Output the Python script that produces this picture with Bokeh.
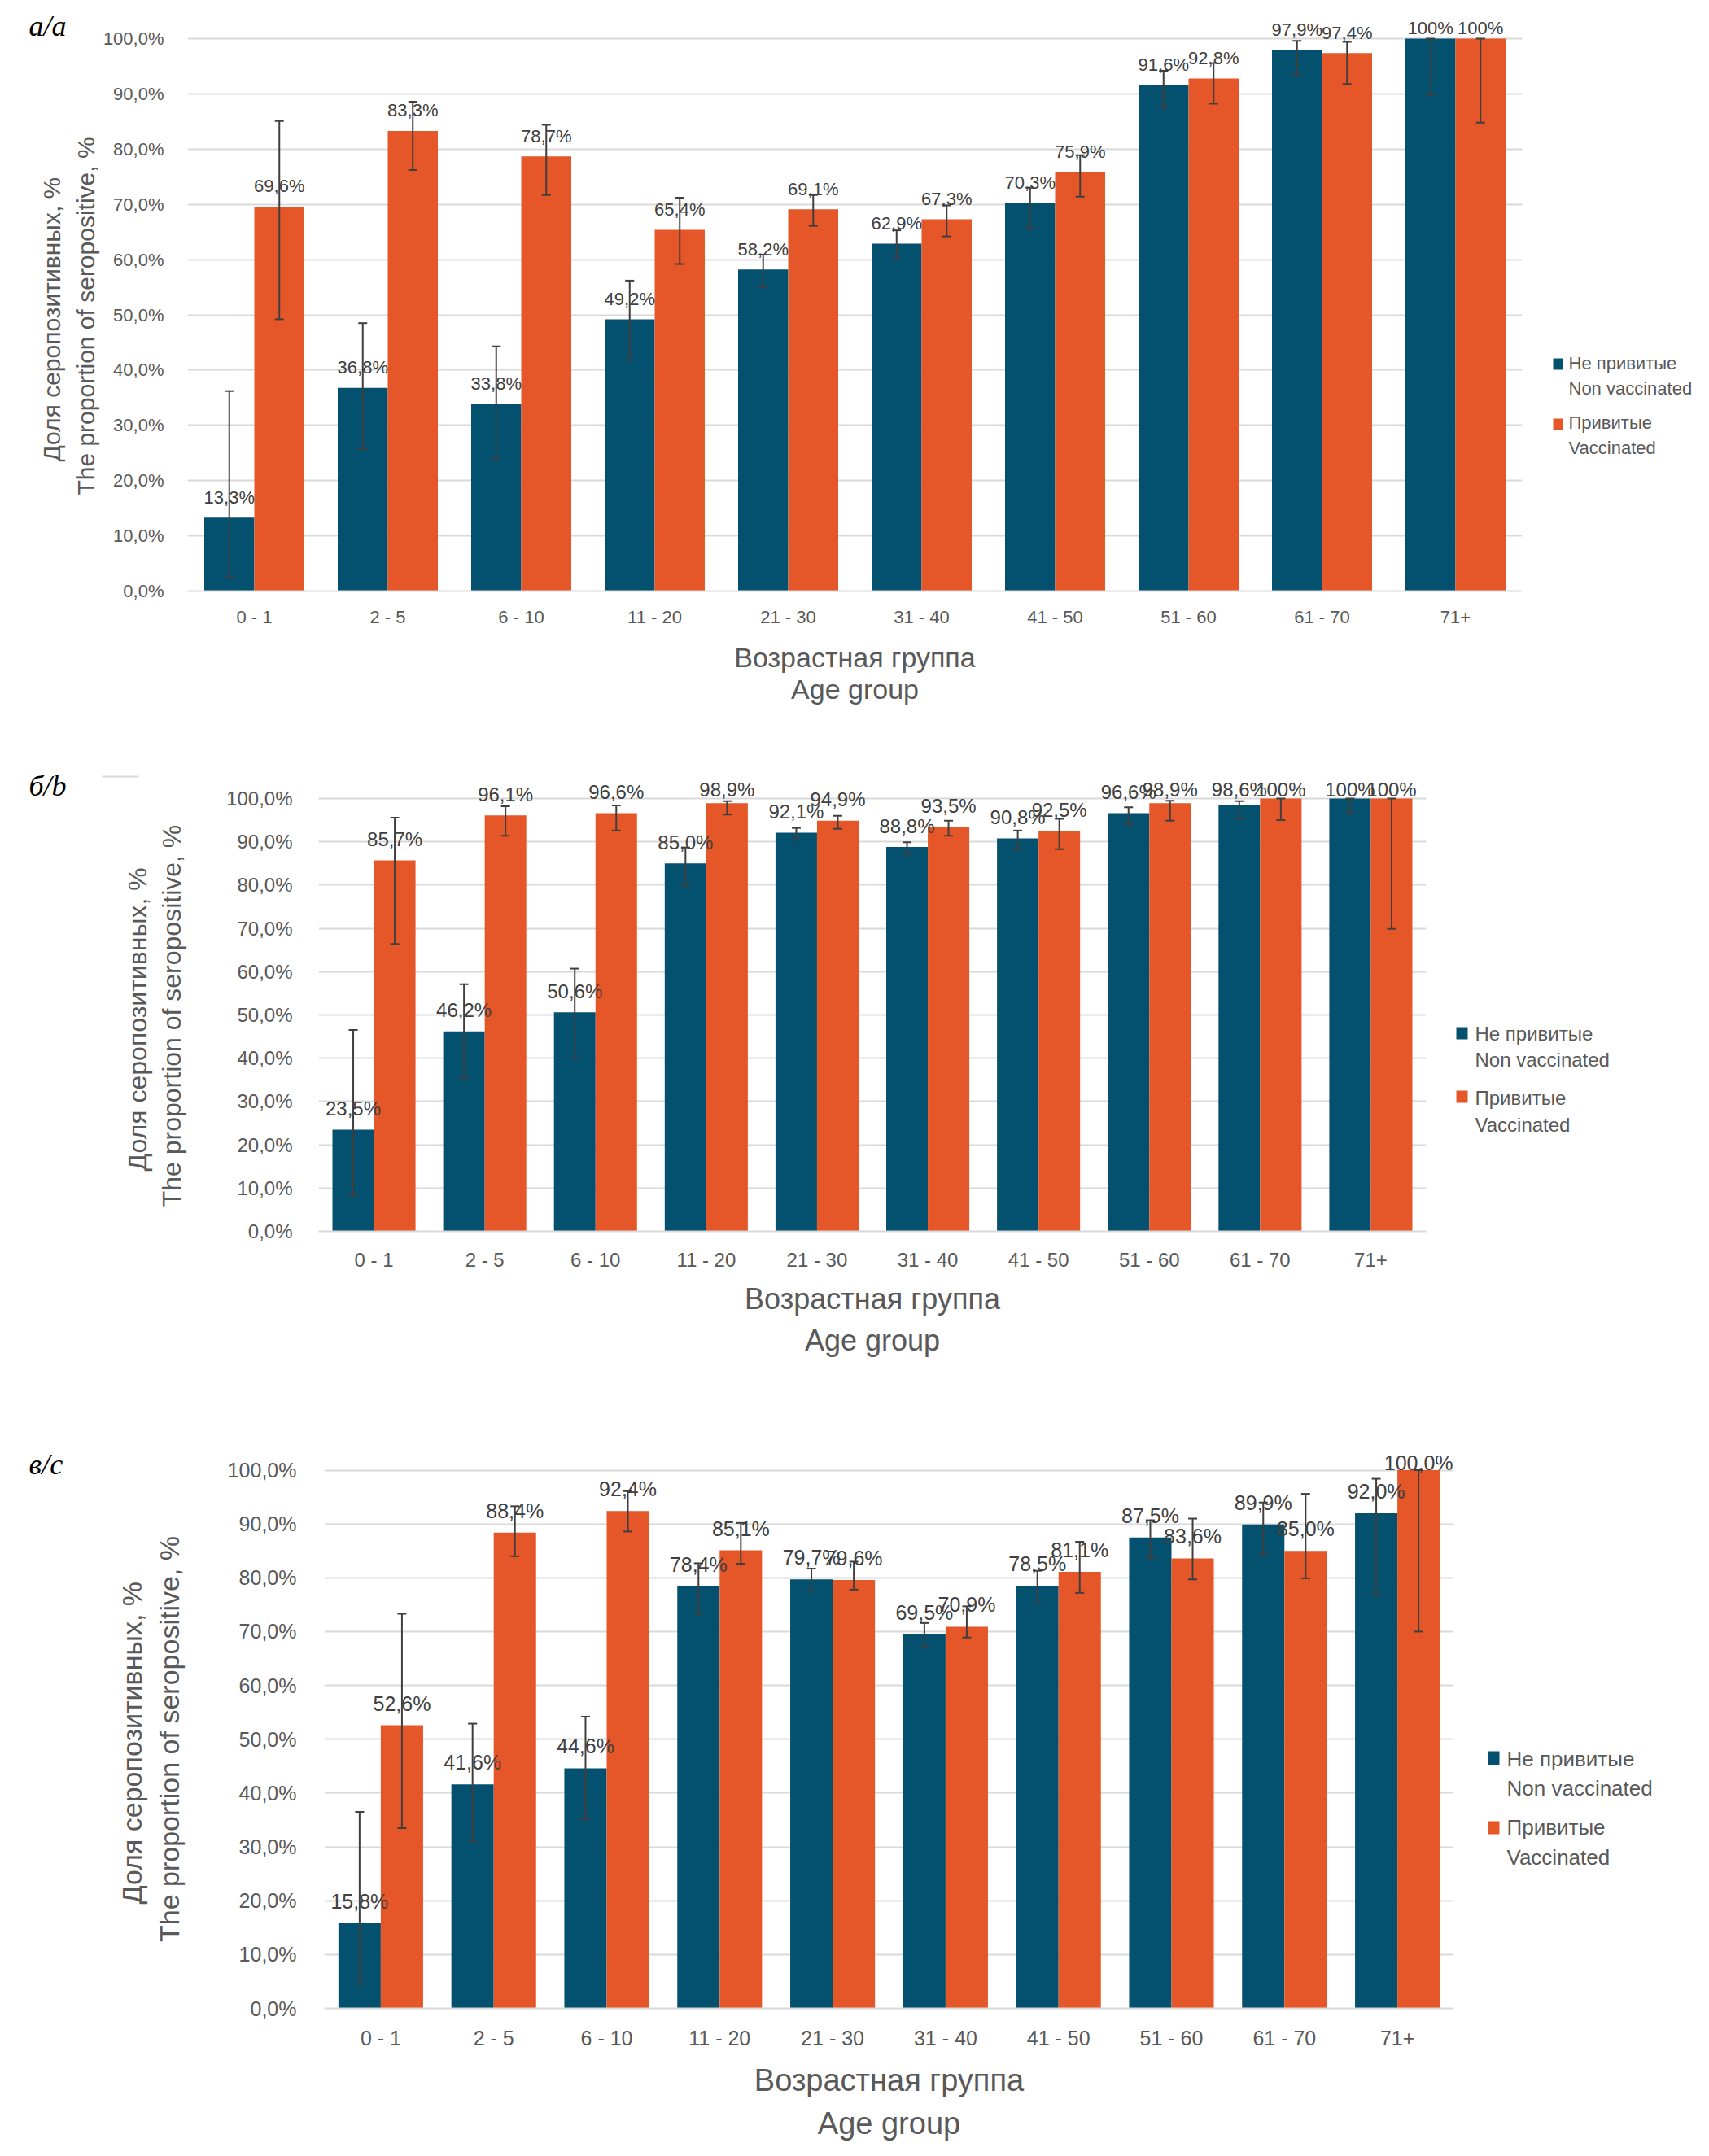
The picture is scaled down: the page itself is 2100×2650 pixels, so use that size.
import math
from bokeh.plotting import figure
from bokeh.models import (ColumnDataSource, FactorRange, Range1d, FixedTicker,
                          Whisker, TeeHead)
from bokeh.transform import dodge
from bokeh.core.properties import value
from bokeh.layouts import column
from bokeh.embed import file_html
from bokeh.resources import INLINE

# ---------------- data ----------------
age_groups = ["0 - 1", "2 - 5", "6 - 10", "11 - 20", "21 - 30",
              "31 - 40", "41 - 50", "51 - 60", "61 - 70", "71+"]
series_ru = ["Не привитые", "Привитые"]
series_en = ["Non vaccinated", "Vaccinated"]
y_title_ru = "Доля серопозитивных,  %"
y_title_en = "The proportion of seropositive, %"
x_title_ru = "Возрастная группа"
x_title_en = "Age group"
y_ticks = [0, 10, 20, 30, 40, 50, 60, 70, 80, 90, 100]

# panel a/a
non_a = [13.3, 36.8, 33.8, 49.2, 58.2, 62.9, 70.3, 91.6, 97.9, 100.0]
vac_a = [69.6, 83.3, 78.7, 65.4, 69.1, 67.3, 75.9, 92.8, 97.4, 100.0]
non_a_lo = [2.6, 25.7, 23.9, 41.8, 55.0, 60.1, 65.8, 87.5, 93.4, 89.8]
non_a_hi = [36.2, 48.5, 44.3, 56.2, 60.9, 65.3, 73.0, 94.2, 99.6, 100.0]
vac_a_lo = [49.2, 76.2, 71.7, 59.2, 66.1, 64.2, 71.4, 88.2, 91.8, 84.8]
vac_a_hi = [85.1, 88.6, 84.4, 71.2, 71.7, 69.8, 78.9, 95.6, 99.4, 100.0]

# panel б/b
non_b = [23.5, 46.2, 50.6, 85.0, 92.1, 88.8, 90.8, 96.6, 98.6, 100.0]
vac_b = [85.7, 96.1, 96.6, 98.9, 94.9, 93.5, 92.5, 98.9, 100.0, 100.0]
non_b_lo = [8.3, 35.2, 40.1, 79.9, 90.5, 87.1, 88.2, 94.0, 95.3, 96.8]
non_b_hi = [46.5, 57.1, 60.7, 88.7, 93.2, 89.9, 92.6, 98.0, 99.4, 100.0]
vac_b_lo = [66.4, 91.4, 92.6, 96.3, 93.0, 91.4, 88.3, 94.9, 95.0, 69.9]
vac_b_hi = [95.6, 98.2, 98.4, 99.4, 96.0, 94.9, 95.3, 99.5, 100.0, 100.0]

# panel в/c
non_c = [15.8, 41.6, 44.6, 78.4, 79.7, 69.5, 78.5, 87.5, 89.9, 92.0]
vac_c = [52.6, 88.4, 92.4, 85.1, 79.6, 70.9, 81.1, 83.6, 85.0, 100.0]
non_c_lo = [4.5, 31.1, 35.1, 73.3, 77.5, 67.3, 75.2, 83.7, 84.3, 76.7]
non_c_hi = [36.5, 52.9, 54.2, 82.7, 81.7, 71.6, 81.3, 90.7, 94.0, 98.4]
vac_c_lo = [33.5, 84.0, 88.6, 82.6, 77.8, 68.9, 77.2, 79.7, 79.9, 70.0]
vac_c_hi = [73.3, 93.3, 96.1, 90.2, 83.0, 74.7, 86.7, 91.0, 95.6, 100.0]

# ---------------- style ----------------
NAVY = "#03506F"
ORANGE = "#E55628"
GRID = "#D9D9D9"
TXT = "#595959"
LAB = "#404040"
SANS = "Liberation Sans"
SERIF = "Liberation Serif"
PAGE_W = 2090
MARGIN = 0  # picture coordinates == canvas coordinates


def fmt(v, full100):
    if v >= 100 and not full100:
        return "100%"
    return ("%.1f" % v).replace(".", ",") + "%"


def make_panel(cfg, letter, non, vac, non_lo, non_hi, vac_lo, vac_hi, full100):
    fl, fr, y0, y100 = cfg["fl"], cfg["fr"], cfg["y0"], cfg["y100"]
    H = cfg["fig_bottom"] - cfg["fig_top"]
    ppp = (y0 - y100) / 100.0
    n = len(age_groups)

    def dx(px):
        return (px - fl) / (fr - fl) * n

    def dy(py):
        return (y0 - py) / ppp

    p = figure(width=PAGE_W, height=H,
               x_range=FactorRange(*age_groups, range_padding=0),
               y_range=Range1d(0, dy(cfg["frame_top"])),
               output_backend="svg", toolbar_location=None,
               min_border_left=fl - MARGIN, min_border_right=PAGE_W + MARGIN - fr,
               min_border_top=cfg["frame_top"] - cfg["fig_top"],
               min_border_bottom=cfg["fig_bottom"] - y0)
    try:
        p.frame_align = False
    except Exception:
        pass
    p.outline_line_color = None
    p.background_fill_color = "white"
    p.border_fill_color = "white"

    p.xgrid.grid_line_color = None
    p.yaxis.ticker = FixedTicker(ticks=y_ticks)
    p.ygrid.grid_line_color = GRID
    p.ygrid.grid_line_width = 2
    p.yaxis.major_label_overrides = {t: ("%.1f" % t).replace(".", ",") + "%" for t in y_ticks}
    p.yaxis.axis_line_color = None
    p.yaxis.major_tick_line_color = None
    p.yaxis.minor_tick_line_color = None
    p.yaxis.major_label_standoff = cfg["ystand"]
    p.yaxis.major_label_text_font = SANS
    p.yaxis.major_label_text_font_size = "%dpx" % cfg["tick"]
    p.yaxis.major_label_text_color = TXT

    p.xaxis.axis_line_color = GRID
    p.xaxis.axis_line_width = 2
    p.xaxis.major_tick_line_color = None
    p.xaxis.minor_tick_line_color = None
    p.xaxis.major_label_standoff = cfg["xstand"]
    p.xaxis.major_label_text_font = SANS
    p.xaxis.major_label_text_font_size = "%dpx" % cfg["tick"]
    p.xaxis.major_label_text_color = TXT

    off = cfg["lab_off"] / ppp
    lim = dy(cfg["lab_lim"])
    src = ColumnDataSource(dict(
        cat=age_groups, non=non, vac=vac,
        non_lo=non_lo, non_hi=non_hi, vac_lo=vac_lo, vac_hi=vac_hi,
        ly_non=[min(v + off, lim) for v in non],
        ly_vac=[min(v + off, lim) for v in vac],
        t_non=[fmt(v, full100) for v in non],
        t_vac=[fmt(v, full100) for v in vac],
    ))

    bw = 0.375
    p.vbar(x=dodge("cat", -bw / 2, range=p.x_range), top="non", width=bw,
           source=src, fill_color=NAVY, line_color=None)
    p.vbar(x=dodge("cat", bw / 2, range=p.x_range), top="vac", width=bw,
           source=src, fill_color=ORANGE, line_color=None)

    for sh, key in ((-bw / 2, "non"), (bw / 2, "vac")):
        p.text(x=dodge("cat", sh, range=p.x_range), y="ly_" + key, text="t_" + key,
               source=src, text_align="center", text_baseline="middle",
               text_font=value(SANS), text_font_size="%dpx" % cfg["lab"],
               text_color=LAB, level="overlay")
        w = Whisker(source=src, base=dodge("cat", sh, range=p.x_range),
                    lower=key + "_lo", upper=key + "_hi",
                    line_color="#3F3F3F", line_width=2, level="overlay",
                    upper_head=TeeHead(size=11, line_color="#3F3F3F", line_width=2),
                    lower_head=TeeHead(size=11, line_color="#3F3F3F", line_width=2))
        p.add_layout(w)

    # ---- legend (squares + two-line labels) ----
    fs = cfg["leg"]
    for k, col in enumerate((NAVY, ORANGE)):
        top, bot = cfg["sq_y"][k]
        p.quad(left=[dx(cfg["leg_x"])], right=[dx(cfg["leg_x"] + cfg["sq_w"])],
               top=[dy(top)], bottom=[dy(bot)], fill_color=col, line_color=None,
               level="overlay")
        c1, c2 = cfg["leg_c"][k]
        p.text(x=[dx(cfg["leg_tx"])] * 2, y=[dy(c1), dy(c2)],
               text=[series_ru[k], series_en[k]], text_align="left",
               text_baseline="middle", text_font=value(SANS),
               text_font_size="%dpx" % fs, text_color=TXT, level="overlay")

    # ---- axis titles ----
    p.text(x=[dx(cfg["yt1"]), dx(cfg["yt2"])], y=[dy(cfg["ytc"])] * 2,
           text=[y_title_ru, y_title_en], angle=math.pi / 2,
           text_align="center", text_baseline="middle", text_font=value(SANS),
           text_font_size="%dpx" % cfg["ytf"], text_color=TXT, level="overlay")
    xc = dx((fl + fr) / 2.0)
    p.text(x=[xc, xc], y=[dy(cfg["xc1"]), dy(cfg["xc2"])],
           text=[x_title_ru, x_title_en], text_align="center",
           text_baseline="middle", text_font=value(SANS),
           text_font_size="%dpx" % cfg["xtf"], text_color=TXT, level="overlay")

    # ---- panel letter ----
    p.text(x=[dx(35)], y=[dy(cfg["let_c"])], text=[letter], text_align="left",
           text_baseline="middle", text_font=value(SERIF),
           text_font_style="italic", text_font_size="36px", text_color="black",
           level="overlay")
    if cfg.get("rule"):
        x1, x2, yy = cfg["rule"]
        p.segment(x0=[dx(x1)], x1=[dx(x2)], y0=[dy(yy)], y1=[dy(yy)],
                  line_color=GRID, line_width=2, level="overlay")
    return p


cfg_a = dict(fig_top=0, fig_bottom=878, fl=230, fr=1870, y100=47, y0=726, frame_top=14,
             tick=22, ystand=23, xstand=13, lab=22, lab_off=25, lab_lim=34,
             yt1=63, yt2=105, ytc=388, ytf=30, xc1=807, xc2=846, xtf=34,
             let_c=31, leg=22, leg_x=1908, leg_tx=1927, sq_w=12,
             sq_y=[(440, 454), (514, 528)], leg_c=[(446, 477), (519, 550)])
cfg_b = dict(fig_top=878, fig_bottom=1716, fl=391, fr=1752, y100=981, y0=1513, frame_top=950,
             tick=24, ystand=26, xstand=15, lab=24, lab_off=26, lab_lim=970,
             yt1=168, yt2=210, ytc=1248, ytf=32, xc1=1596, xc2=1647, xtf=36,
             let_c=965, leg=24, leg_x=1789, leg_tx=1812, sq_w=14,
             sq_y=[(1262, 1277), (1340, 1355)], leg_c=[(1270, 1302), (1349, 1382)],
             rule=(125, 170, 954))
cfg_c = dict(fig_top=1716, fig_bottom=2646, fl=398, fr=1786, y100=1806.5, y0=2468, frame_top=1775,
             tick=25, ystand=28, xstand=16, lab=25, lab_off=27, lab_lim=1797,
             yt1=161, yt2=207, ytc=2137, ytf=34, xc1=2556, xc2=2609, xtf=38,
             let_c=1799, leg=26, leg_x=1828, leg_tx=1851, sq_w=14,
             sq_y=[(2152, 2169), (2238, 2254)], leg_c=[(2161, 2197), (2245, 2282)])

pa = make_panel(cfg_a, "a/a", non_a, vac_a, non_a_lo, non_a_hi, vac_a_lo, vac_a_hi, False)
pb = make_panel(cfg_b, "б/b", non_b, vac_b, non_b_lo, non_b_hi, vac_b_lo, vac_b_hi, False)
pc = make_panel(cfg_c, "в/c", non_c, vac_c, non_c_lo, non_c_hi, vac_c_lo, vac_c_hi, True)

page = column(pa, pb, pc, spacing=0)
open("out.html", "w").write(file_html(page, INLINE))
